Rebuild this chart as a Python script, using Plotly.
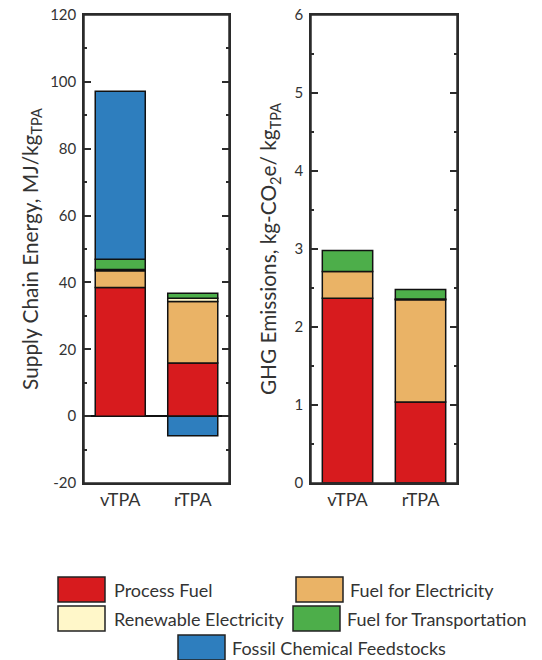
import plotly.graph_objects as go

# ---------------- data ----------------
categories = ["vTPA", "rTPA"]
series_names = ["Process Fuel", "Fuel for Electricity", "Renewable Electricity",
                "Fuel for Transportation", "Fossil Chemical Feedstocks"]

# Supply chain energy, MJ/kg TPA
energy_process_fuel = [38.5, 15.9]
energy_fuel_electricity = [5.0, 18.4]
energy_renewable_electricity = [0.4, 1.0]
energy_fuel_transport = [3.0, 1.5]
energy_fossil_feedstocks = [50.3, -5.9]

# GHG emissions, kg-CO2e/kg TPA
ghg_process_fuel = [2.37, 1.04]
ghg_fuel_electricity = [0.34, 1.31]
ghg_renewable_electricity = [None, 0.01]
ghg_fuel_transport = [0.27, 0.12]
ghg_fossil_feedstocks = [None, None]

energy_tick_values = [-20, 0, 20, 40, 60, 80, 100, 120]
energy_tick_labels = ["-20", "0", "20", "40", "60", "80", "100", "120"]
ghg_tick_values = [0, 1, 2, 3, 4, 5, 6]
ghg_tick_labels = ["0", "1", "2", "3", "4", "5", "6"]

colors = ["#D71B1E", "#EAB366", "#FFF7C9", "#4DAE4A", "#2E7EBE"]

# ---------------- layout geometry ----------------
# the page body adds an 8px margin, so the figure is drawn 8px in from the window edge
OFF = 8
W, H = 534, 652
def px(x):
    return (x - OFF) / W
def py(y):
    return 1 - (y - OFF) / H

XL = [px(84), px(229)]
XR = [px(311), px(457)]
YD = [py(483), py(15)]
YL_RANGE = [-20, 120]
YR_RANGE = [0, 6]
zero_pos = YD[0] + (YD[1] - YD[0]) * (0 - YL_RANGE[0]) / (YL_RANGE[1] - YL_RANGE[0])

LINE = "#2b2b2b"
TXT = "#333333"
FONT = "Lato"
FS_YTICK = 15
FS_XTICK = 18
FS_TITLE = 20.8
FS_LEG = 18

fig = go.Figure()

energy = [energy_process_fuel, energy_fuel_electricity, energy_renewable_electricity,
          energy_fuel_transport, energy_fossil_feedstocks]
ghg = [ghg_process_fuel, ghg_fuel_electricity, ghg_renewable_electricity,
       ghg_fuel_transport, ghg_fossil_feedstocks]

for name, vals, col in zip(series_names, energy, colors):
    fig.add_trace(go.Bar(x=categories, y=vals, name=name, marker_color=col,
                         marker_line=dict(color="#111111", width=1.5),
                         xaxis="x", yaxis="y", showlegend=False))
for name, vals, col in zip(series_names, ghg, colors):
    fig.add_trace(go.Bar(x=categories, y=vals, name=name, marker_color=col,
                         marker_line=dict(color="#111111", width=1.5),
                         xaxis="x2", yaxis="y2", showlegend=False))

ticklen_major = 7
ticklen_minor = 3.5

common_x = dict(type="category", range=[-0.5, 1.5], showline=True, mirror=True,
                linecolor=LINE, linewidth=1.5, ticks="",
                tickfont=dict(family=FONT, size=FS_XTICK, color=TXT),
                showgrid=False, zeroline=False, fixedrange=True, automargin=False,
                ticklabeloverflow="allow")
common_y = dict(showline=True, mirror="ticks", linecolor=LINE, linewidth=1.5,
                ticks="inside", ticklen=ticklen_major, tickwidth=1.5, tickcolor=LINE,
                tickfont=dict(family=FONT, size=FS_YTICK, color=TXT),
                showgrid=False, ticklabelstandoff=3, automargin=False,
                ticklabeloverflow="allow", tickmode="array")

tick_overlay = dict(type="linear", range=[-0.5, 1.5], tickvals=[0, 1],
                    showticklabels=False, showgrid=False, zeroline=False,
                    showline=False, tickcolor=LINE, tickwidth=1.5, ticklen=ticklen_major,
                    automargin=False)

def minor_ticks(kind):
    return dict(tickvals=[0.5], ticks=kind, ticklen=ticklen_minor, tickcolor=LINE, tickwidth=1.5)

fig.update_layout(
    width=W, height=H,
    margin=dict(l=0, r=0, t=0, b=0, autoexpand=False),
    paper_bgcolor="white", plot_bgcolor="white",
    barmode="relative", bargap=0.31,
    font=dict(family=FONT, color=TXT),
    xaxis=dict(domain=XL, anchor="y", **common_x),
    yaxis=dict(domain=YD, anchor="x", range=YL_RANGE,
               tickvals=energy_tick_values, ticktext=energy_tick_labels,
               minor=dict(ticks="inside", ticklen=ticklen_minor, dtick=10, tick0=0,
                          tickcolor=LINE, tickwidth=1.5),
               zeroline=True, zerolinecolor="#111111", zerolinewidth=1.5,
               title=dict(text="Supply Chain Energy, MJ/kg<sub>TPA</sub>",
                          font=dict(family=FONT, size=FS_TITLE, color=TXT), standoff=6),
               **common_y),
    xaxis2=dict(domain=XR, anchor="y2", **common_x),
    yaxis2=dict(domain=YD, anchor="x2", range=YR_RANGE,
                tickvals=ghg_tick_values, ticktext=ghg_tick_labels,
                minor=dict(ticks="inside", ticklen=ticklen_minor, dtick=0.5, tick0=0,
                           tickcolor=LINE, tickwidth=1.5),
                zeroline=False,
                title=dict(text="GHG Emissions, kg-CO<sub>2</sub>e/ kg<sub>TPA</sub>",
                           font=dict(family=FONT, size=FS_TITLE, color=TXT), standoff=12),
                **common_y),
    # left: top ticks
    xaxis3=dict(overlaying="x", anchor="y", side="top", ticks="inside",
                minor=minor_ticks("inside"), **tick_overlay),
    # left: ticks crossing the zero line
    xaxis4=dict(overlaying="x", anchor="free", position=zero_pos, side="bottom", ticks="outside",
                minor=minor_ticks("outside"), **tick_overlay),
    xaxis5=dict(overlaying="x", anchor="free", position=zero_pos, side="bottom", ticks="inside",
                minor=minor_ticks("inside"), **tick_overlay),
    # right: bottom and top ticks
    xaxis6=dict(overlaying="x2", anchor="y2", side="bottom", ticks="inside",
                minor=minor_ticks("inside"), **tick_overlay),
    xaxis7=dict(overlaying="x2", anchor="y2", side="top", ticks="inside",
                minor=minor_ticks("inside"), **tick_overlay),
)

# frames round both plot areas
for xr, yr in (("x", "y"), ("x2", "y2")):
    fig.add_shape(type="rect", xref=f"{xr} domain", yref=f"{yr} domain",
                  x0=0, x1=1, y0=0, y1=1, line=dict(color=LINE, width=1.5),
                  fillcolor="rgba(0,0,0,0)", layer="above")

# ---------------- manual legend ----------------
legend_items = [
    # (series index, swatch x0, swatch y0, text x) in window pixels
    (0, 58, 577, 112),
    (1, 296, 577, 348),
    (2, 58, 606, 112),
    (3, 293, 606, 345),
    (4, 178, 635, 230),
]
SW, SH = 47, 25
for idx, x0, y0, tx in legend_items:
    fig.add_shape(type="rect", xref="paper", yref="paper",
                  x0=px(x0), x1=px(x0 + SW), y0=py(y0 + SH), y1=py(y0),
                  fillcolor=colors[idx], line=dict(color="#222222", width=1.5))
    fig.add_annotation(xref="paper", yref="paper", x=px(tx), y=py(y0 + SH / 2),
                       text=series_names[idx], showarrow=False, xanchor="left",
                       yanchor="middle", font=dict(family=FONT, size=FS_LEG, color=TXT))

fig.write_html("out.html")
